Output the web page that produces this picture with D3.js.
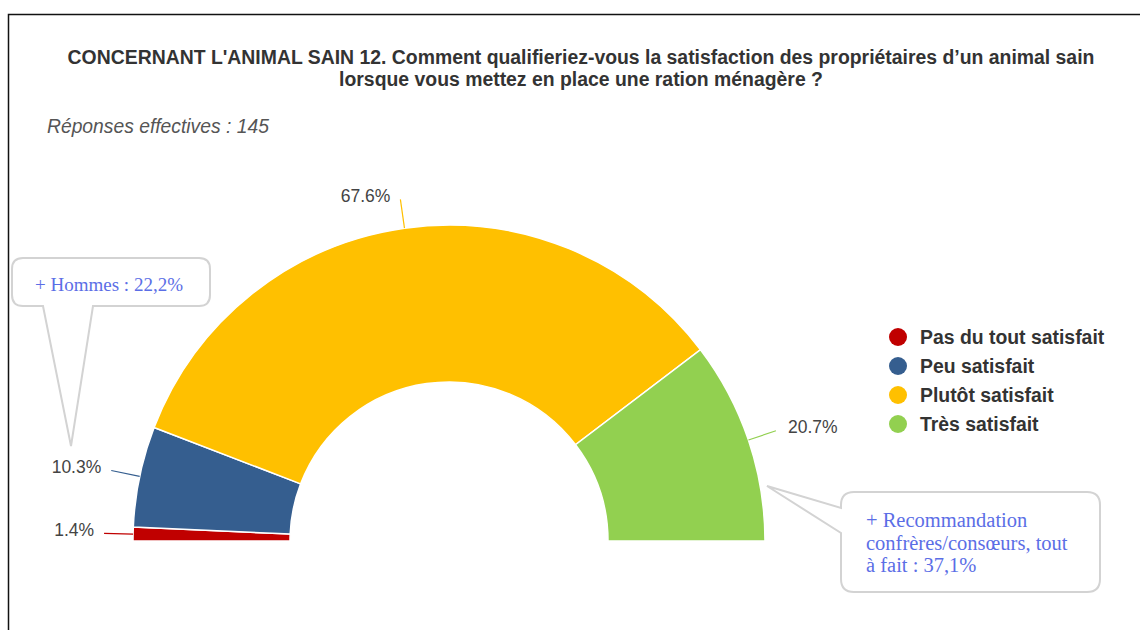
<!DOCTYPE html>
<html>
<head>
<meta charset="utf-8">
<script src="https://cdn.jsdelivr.net/npm/d3@7"></script>
<style>
  html, body { margin: 0; padding: 0; background: #fff; }
  svg { display: block; }
</style>
</head>
<body>
<svg id="chart" width="1140" height="630"></svg>
<script>
// Survey answers (share of respondents, %)
const categories = ["Pas du tout satisfait", "Peu satisfait", "Plutôt satisfait", "Très satisfait"];
const shares = [1.4, 10.3, 67.6, 20.7];
const colors = ["#c00000", "#355e8f", "#ffc000", "#92d050"];

const titleLines = [
  "CONCERNANT L'ANIMAL SAIN 12. Comment qualifieriez-vous la satisfaction des propriétaires d\u2019un animal sain",
  "lorsque vous mettez en place une ration ménagère ?"
];
const subtitle = "Réponses effectives : 145";
const noteMen = ["+ Hommes : 22,2%"];
const noteReco = ["+ Recommandation", "confrères/consœurs, tout", "à fait : 37,1%"];

const svg = d3.select("#chart");
const sans = "'Liberation Sans', Arial, sans-serif";
const serif = "'Liberation Serif', 'DejaVu Serif', serif";

// Frame (left and top edges)
svg.append("path")
  .attr("d", "M8.5,630 L8.5,14.5 L1140,14.5")
  .attr("fill", "none").attr("stroke", "#111").attr("stroke-width", 1.5);

// Title
svg.append("g").selectAll("text").data(titleLines).join("text")
  .attr("x", 581).attr("y", (d, i) => 64 + i * 22)
  .attr("text-anchor", "middle")
  .attr("font-family", sans).attr("font-weight", "bold").attr("font-size", 19.4)
  .attr("fill", "#333")
  .text(d => d);

svg.append("text")
  .attr("x", 47).attr("y", 133)
  .attr("font-family", sans).attr("font-style", "italic").attr("font-size", 19.3)
  .attr("fill", "#555")
  .text(subtitle);

// Half donut
const cx = 449, cy = 541, rOuter = 316, rInner = 159;
const pie = d3.pie().sort(null).startAngle(-Math.PI / 2).endAngle(Math.PI / 2);
const arcs = pie(shares);
const arc = d3.arc().innerRadius(rInner).outerRadius(rOuter);

const g = svg.append("g").attr("transform", `translate(${cx},${cy})`);
g.selectAll("path.slice").data(arcs).join("path")
  .attr("class", "slice")
  .attr("d", arc)
  .attr("fill", (d, i) => colors[i])
  .attr("stroke", "#fff").attr("stroke-width", 1.5);

// Leader lines and value labels
const polar = (a, r) => [r * Math.sin(a), -r * Math.cos(a)];
arcs.forEach((d, i) => {
  const a = (d.startAngle + d.endAngle) / 2;
  const p0 = polar(a, rOuter);
  const p1 = polar(a, rOuter + 29);
  g.append("line")
    .attr("x1", p0[0]).attr("y1", p0[1]).attr("x2", p1[0]).attr("y2", p1[1])
    .attr("stroke", colors[i]).attr("stroke-width", 1.2);
  const left = p1[0] < 0;
  g.append("text")
    .attr("x", p1[0] + (left ? -10 : 12))
    .attr("y", p1[1] - 4)
    .attr("dy", "0.35em")
    .attr("text-anchor", left ? "end" : "start")
    .attr("font-family", sans).attr("font-size", 17.5)
    .attr("fill", "#444")
    .text(d3.format(".1f")(shares[i]) + "%");
});

// Legend
const legend = svg.append("g").attr("transform", "translate(898,337)");
const rows = legend.selectAll("g").data(categories).join("g")
  .attr("transform", (d, i) => `translate(0,${i * 29})`);
rows.append("circle").attr("r", 9).attr("fill", (d, i) => colors[i]);
rows.append("text")
  .attr("x", 22).attr("dy", "0.35em")
  .attr("font-family", sans).attr("font-weight", "bold").attr("font-size", 19.4)
  .attr("fill", "#333")
  .text(d => d);

// Callout bubbles
const calloutStyle = sel => sel.attr("fill", "#fff").attr("stroke", "#d3d3d3").attr("stroke-width", 2);

// Bubble with its tail leaving the bottom edge
function bubbleBottom(x0, y0, x1, y1, r, t0, t1, tip) {
  return `M${x0 + r},${y0} L${x1 - r},${y0} Q${x1},${y0} ${x1},${y0 + r}
    L${x1},${y1 - r} Q${x1},${y1} ${x1 - r},${y1}
    L${t1},${y1} L${tip[0]},${tip[1]} L${t0},${y1}
    L${x0 + r},${y1} Q${x0},${y1} ${x0},${y1 - r}
    L${x0},${y0 + r} Q${x0},${y0} ${x0 + r},${y0} Z`;
}
// Bubble with its tail leaving the left edge
function bubbleLeft(x0, y0, x1, y1, r, t0, t1, tip) {
  return `M${x0 + r},${y0} L${x1 - r},${y0} Q${x1},${y0} ${x1},${y0 + r}
    L${x1},${y1 - r} Q${x1},${y1} ${x1 - r},${y1}
    L${x0 + r},${y1} Q${x0},${y1} ${x0},${y1 - r}
    L${x0},${t1} L${tip[0]},${tip[1]} L${x0},${t0}
    L${x0},${y0 + r} Q${x0},${y0} ${x0 + r},${y0} Z`;
}

svg.append("path")
  .attr("d", bubbleBottom(12, 258, 210, 306, 11, 43, 93, [71, 446]))
  .call(calloutStyle);
svg.append("g").selectAll("text").data(noteMen).join("text")
  .attr("x", 109).attr("y", 291)
  .attr("text-anchor", "middle")
  .attr("font-family", serif).attr("font-size", 19)
  .attr("fill", "#5b6ee6")
  .text(d => d);

svg.append("path")
  .attr("d", bubbleLeft(841, 492, 1100, 592, 13, 508, 533, [767, 486]))
  .call(calloutStyle);
svg.append("g").selectAll("text").data(noteReco).join("text")
  .attr("x", 866).attr("y", (d, i) => 527 + i * 22.5)
  .attr("font-family", serif).attr("font-size", 20.5)
  .attr("fill", "#5b6ee6")
  .text(d => d);
</script>
</body>
</html>
